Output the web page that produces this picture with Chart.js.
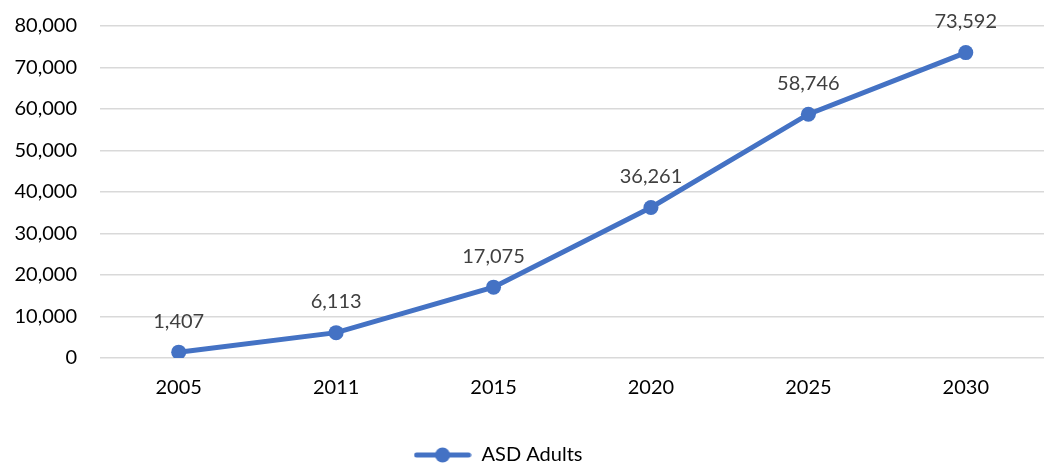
<!DOCTYPE html>
<html>
<head>
<meta charset="utf-8">
<title>ASD Adults</title>
<script src="https://cdn.jsdelivr.net/npm/chart.js@4/dist/chart.umd.min.js"></script>
<style>
  html, body { margin: 0; padding: 0; background: #fff; overflow: hidden; }
  canvas { display: block; }
</style>
</head>
<body>
<canvas id="asdChart" width="1052" height="465" style="width:1052px;height:465px"></canvas>
<script>
// series data
const years = ['2005', '2011', '2015', '2020', '2025', '2030'];
const asdAdults = [1407, 6113, 17075, 36261, 58746, 73592];
const yTicks = [0, 10000, 20000, 30000, 40000, 50000, 60000, 70000, 80000];

const BLUE = '#4472C4';
const FONT = 'Lato, "Liberation Sans", sans-serif';
const FS = 20;

const fmt = v => v.toLocaleString('en-US');

// legend swatch: short thick line with a dot in the middle
const swatch = document.createElement('canvas');
swatch.width = 58; swatch.height = 16;
(function () {
    const c = swatch.getContext('2d');
    c.strokeStyle = BLUE;
    c.lineWidth = 5;
    c.lineCap = 'round';
    c.beginPath(); c.moveTo(3, 8); c.lineTo(55, 8); c.stroke();
    c.fillStyle = BLUE;
    c.beginPath(); c.arc(29, 8, 7.5, 0, Math.PI * 2); c.fill();
})();

// value labels above each point
const valueLabels = {
    id: 'valueLabels',
    afterDatasetsDraw(chart) {
        const ctx = chart.ctx;
        const meta = chart.getDatasetMeta(0);
        ctx.save();
        ctx.font = FS + 'px ' + FONT;
        ctx.fillStyle = '#404040';
        ctx.textAlign = 'center';
        ctx.textBaseline = 'middle';
        meta.data.forEach((pt, i) => {
            ctx.fillText(fmt(asdAdults[i]), pt.x, pt.y - 31);
        });
        ctx.restore();
    }
};

// nudge the legend a little left of the canvas centre
const legendShift = {
    id: 'legendShift',
    afterLayout(chart) {
        if (chart.legend) chart.legend.right -= 56;
    }
};

new Chart(document.getElementById('asdChart').getContext('2d'), {
    type: 'line',
    data: {
        labels: years,
        datasets: [{
            label: 'ASD Adults',
            data: asdAdults,
            borderColor: BLUE,
            backgroundColor: BLUE,
            borderWidth: 5,
            pointRadius: 7.5,
            pointHoverRadius: 7.5,
            pointBackgroundColor: BLUE,
            pointBorderWidth: 0,
            tension: 0
        }]
    },
    options: {
        responsive: false,
        animation: false,
        layout: { padding: { top: 26, right: 0, bottom: -10, left: 0 } },
        scales: {
            x: {
                offset: true,
                grid: { display: false, offset: true },
                border: { display: false },
                ticks: { color: '#000', font: { family: FONT, size: FS }, padding: 10 },
                afterFit(scale) {
                    scale.height = 87;
                    scale.paddingLeft = 0;
                    scale.paddingRight = 0;
                }
            },
            y: {
                min: 0,
                max: 80000,
                afterBuildTicks(scale) { scale.ticks = yTicks.map(v => ({ value: v })); },
                grid: { color: '#d9d9d9', lineWidth: 1.5, drawTicks: false },
                border: { display: false },
                ticks: {
                    color: '#000',
                    font: { family: FONT, size: FS },
                    padding: 23,
                    callback: v => fmt(v)
                },
                afterFit(scale) {
                    scale.width = 100;
                    scale.paddingTop = 0;
                    scale.paddingBottom = 0;
                }
            }
        },
        plugins: {
            legend: {
                position: 'bottom',
                labels: {
                    color: '#000',
                    font: { family: FONT, size: FS },
                    padding: 0,
                    usePointStyle: true,
                    pointStyleWidth: 58,
                    generateLabels: chart => [{
                        text: 'ASD Adults',
                        pointStyle: swatch,
                        fillStyle: BLUE,
                        strokeStyle: BLUE,
                        lineWidth: 0,
                        datasetIndex: 0,
                        hidden: false
                    }]
                }
            },
            tooltip: { enabled: false }
        }
    },
    plugins: [valueLabels, legendShift]
});
</script>
</body>
</html>
